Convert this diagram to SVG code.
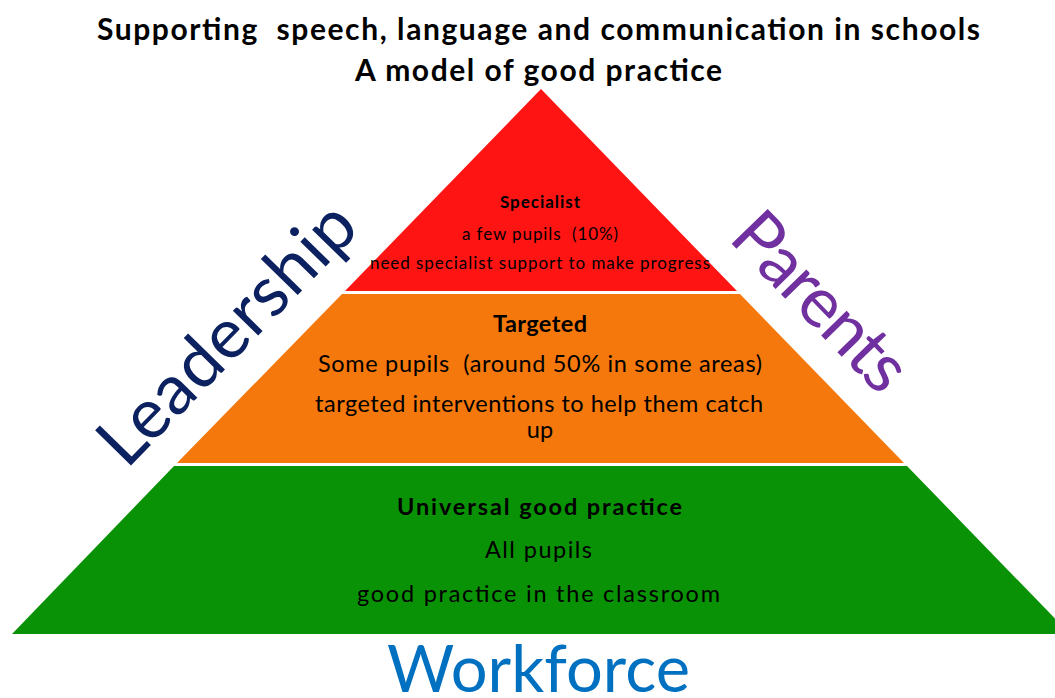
<svg xmlns="http://www.w3.org/2000/svg" width="1055" height="698" viewBox="0 0 1055 698">
<style>
text{font-family:Lato,"Open Sans","Liberation Sans",sans-serif;fill:#000;text-anchor:middle;white-space:pre}
.b{font-weight:bold}
.t{font-size:30px;font-weight:bold}
.s{font-size:17px}
.m{font-size:23.5px}
.big{font-size:70px}
</style>
<rect width="1055" height="698" fill="#fff"/>
<g id="title">
<text class="t" x="538.5" y="40" textLength="883" xml:space="preserve">Supporting  speech, language and communication in schools</text>
<text class="t" x="538.5" y="81" textLength="367">A model of good practice</text>
</g>
<g id="specialist">
<polygon points="541,89 737,291 345,291" fill="#FF1414"/>
<text class="s b" x="540" y="208" textLength="80">Specialist</text>
<text class="s" x="540" y="240" textLength="156" xml:space="preserve">a few pupils  (10%)</text>
<text class="s" x="540" y="269" textLength="340">need specialist support to make progress</text>
</g>
<g id="targeted">
<polygon points="342,294 740,294 904,463 177,463" fill="#F4780C"/>
<text class="m b" x="540" y="332" textLength="94">Targeted</text>
<text class="m" x="540" y="372" textLength="444" xml:space="preserve">Some pupils  (around 50% in some areas)</text>
<text class="m" x="539" y="412" textLength="448">targeted interventions to help them catch</text>
<text class="m" x="540" y="438">up</text>
</g>
<g id="universal">
<polygon points="174,466 907,466 1070,634 12,634" fill="#0A9206"/>
<text class="m b" x="539.5" y="515" textLength="285">Universal good practice</text>
<text class="m" x="538.5" y="558" textLength="107">All pupils</text>
<text class="m" x="538.5" y="602" textLength="363">good practice in the classroom</text>
</g>
<g id="leadership">
<text class="big" x="244" y="350" style="fill:#0C2160" textLength="336" transform="rotate(-45.6 244 350)">Leadership</text>
</g>
<g id="parents">
<text class="big" x="804" y="318" style="fill:#7030A0" textLength="220" transform="rotate(45.8 804 318)">Parents</text>
</g>
<g id="workforce">
<text class="big" x="538.5" y="692" style="fill:#0070C0;font-size:65px" textLength="303">Workforce</text>
</g>
<g id="connectors"></g>
</svg>
